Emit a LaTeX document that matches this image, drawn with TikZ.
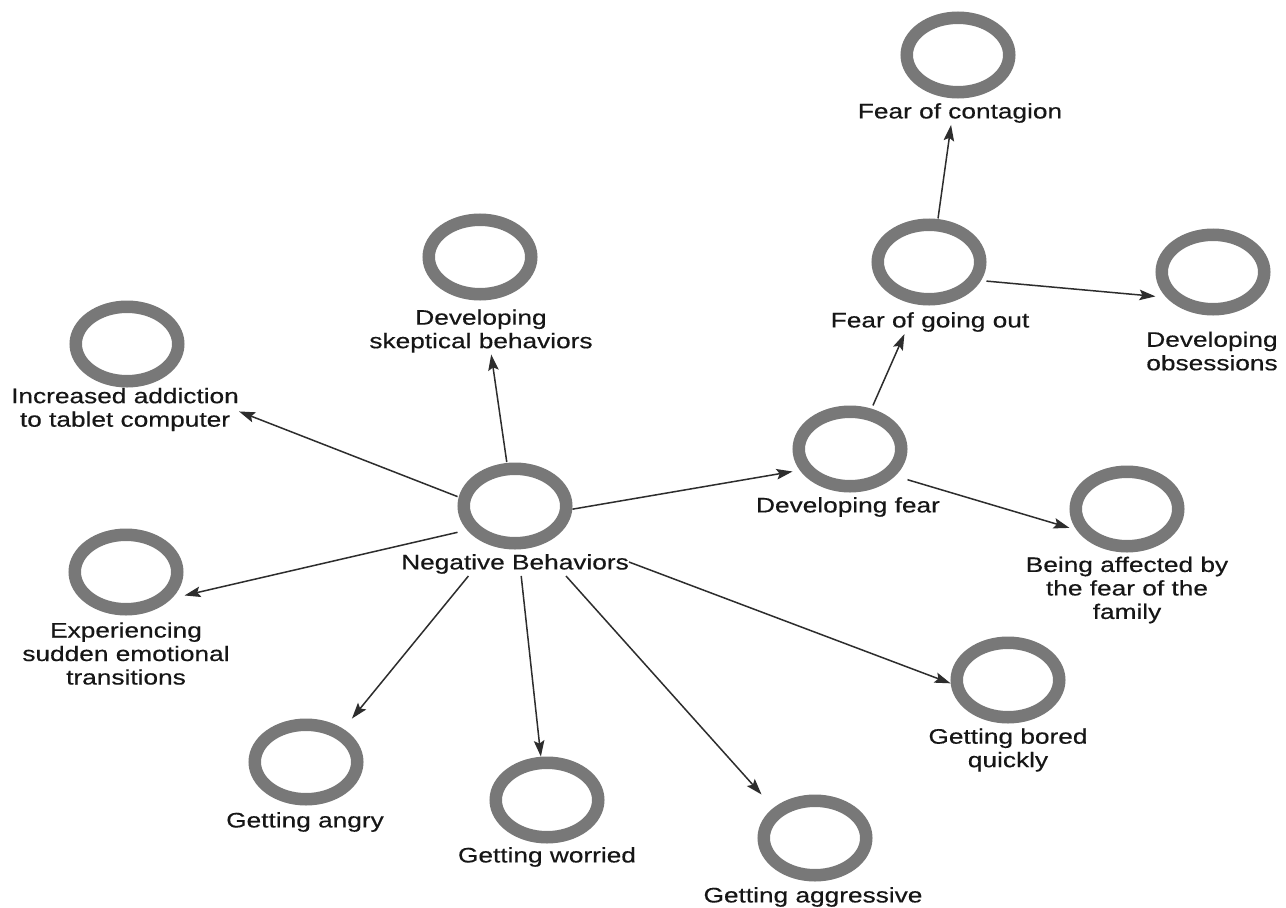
\documentclass[tikz,border=0pt]{standalone}
\usepackage{fontspec}
\setmainfont{Liberation Sans}[FakeStretch=1.25,FakeBold=0.4]
\usetikzlibrary{arrows.meta,shapes.geometric}
\definecolor{ringgray}{RGB}{120,120,120}
\definecolor{inkgray}{RGB}{22,22,22}
\definecolor{linkgray}{RGB}{45,45,45}
\begin{document}
\begin{tikzpicture}[x=1pt,y=-1pt,
  ring/.style={ellipse, draw=ringgray, line width=12.5pt, fill=white,
    minimum width=102.5pt, minimum height=74.5pt, inner sep=0pt},
  tag/.style={align=center, inner sep=0pt, text=inkgray,
    font=\fontsize{21}{23.5}\selectfont},
  link/.style={draw=linkgray, line width=1.5pt,
    -{Stealth[length=16pt,width=10.5pt,inset=3pt]}}]
\fill[white] (0,0) rectangle (1286,908);
\useasboundingbox (0,0) rectangle (1286,908);

% rings
\node[ring] (neg)     at (515,506)  {};
\node[ring] (skep)    at (480,257)  {};
\node[ring] (addict)  at (127,344)  {};
\node[ring] (trans)   at (126,572)  {};
\node[ring] (angry)   at (306,762)  {};
\node[ring] (worried) at (547,800)  {};
\node[ring] (aggr)    at (815,838)  {};
\node[ring] (bored)   at (1008,680) {};
\node[ring] (fear)    at (850,449)  {};
\node[ring] (family)  at (1127,509) {};
\node[ring] (goout)   at (929,262)  {};
\node[ring] (contag)  at (958,55)   {};
\node[ring] (obsess)  at (1213,272) {};

% labels under the rings
\node[tag] (neg-t)     at (515,564)   {Negative Behaviors};
\node[tag] (skep-t)    at (481,331)   {Developing\\skeptical behaviors};
\node[tag] (addict-t)  at (125,409.5) {Increased addiction\\to tablet computer};
\node[tag] (trans-t)   at (126,653.5) {Experiencing\\sudden emotional\\transitions};
\node[tag] (angry-t)   at (305,822)   {Getting angry};
\node[tag] (worried-t) at (547,857)   {Getting worried};
\node[tag] (aggr-t)    at (813,897)   {Getting aggressive};
\node[tag] (bored-t)   at (1008,750)  {Getting bored\\quickly};
\node[tag] (fear-t)    at (848,507)   {Developing fear};
\node[tag] (family-t)  at (1127,590)  {Being affected by\\the fear of the\\family};
\node[tag] (goout-t)   at (930,322)   {Fear of going out};
\node[tag] (contag-t)  at (960,113)   {Fear of contagion};
\node[tag] (obsess-t)  at (1212,351)  {Developing\\obsessions};

% centre of each ring-and-label group
\coordinate (neg-c)     at (515,519);
\coordinate (skep-c)    at (481,284);
\coordinate (addict-c)  at (125,367);
\coordinate (trans-c)   at (126,609);
\coordinate (angry-c)   at (305,776);
\coordinate (worried-c) at (547,813);
\coordinate (aggr-c)    at (813,852);
\coordinate (bored-c)   at (1008,705);
\coordinate (fear-c)    at (848,462);
\coordinate (family-c)  at (1127,545);
\coordinate (goout-c)   at (930,276);
\coordinate (contag-c)  at (959,68);
\coordinate (obsess-c)  at (1212,301.5);

% connectors, trimmed to the group outlines
\draw[link, shorten <=57.6pt, shorten >=71.2pt]  (neg-c) -- (skep-c);
\draw[link, shorten <=61.7pt, shorten >=122.4pt] (neg-c) -- (addict-c);
\draw[link, shorten <=59.0pt, shorten >=60.1pt]  (neg-c) -- (trans-c);
\draw[link, shorten <=73.6pt, shorten >=74.2pt]  (neg-c) -- (angry-c);
\draw[link, shorten <=57.3pt, shorten >=56.8pt]  (neg-c) -- (worried-c);
\draw[link, shorten <=76.5pt, shorten >=77.2pt]  (neg-c) -- (aggr-c);
\draw[link, shorten <=121.8pt, shorten >=61.4pt] (neg-c) -- (bored-c);
\draw[link, shorten <=58.3pt, shorten >=56.3pt]  (neg-c) -- (fear-c);
\draw[link, shorten <=61.8pt, shorten >=63.4pt]  (fear-c) -- (goout-c);
\draw[link, shorten <=62.1pt, shorten >=60.0pt]  (fear-c) -- (family-c);
\draw[link, shorten <=58.1pt, shorten >=57.5pt]  (goout-c) -- (contag-c);
\draw[link, shorten <=56.7pt, shorten >=56.8pt]  (goout-c) -- (obsess-c);
\end{tikzpicture}
\end{document}
